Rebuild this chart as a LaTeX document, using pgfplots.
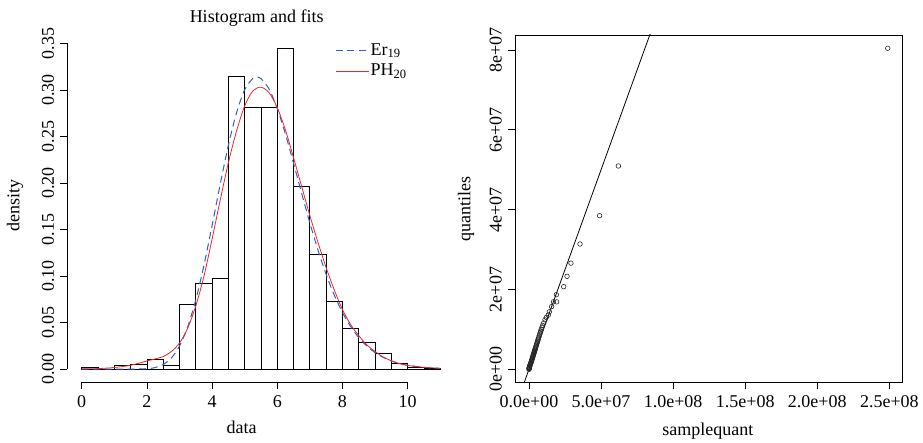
\documentclass[border=0pt]{standalone}
\usepackage{fontspec}
\setmainfont{Liberation Serif}
\usepackage{pgfplots}
\pgfplotsset{compat=1.18}
\definecolor{erblue}{RGB}{45,95,200}
\definecolor{phred}{RGB}{232,40,40}
\begin{document}
\fontsize{18}{21.6}\selectfont
\begin{tikzpicture}
\useasboundingbox (0,0) rectangle (923pt,442pt);
% ---------------- left: histogram and fits ----------------
\begin{axis}[
  at={(67.4pt,60pt)}, anchor=south west,
  scale only axis, width=387.2pt, height=346.7pt,
  xmin=-0.44, xmax=11.44, ymin=-0.0138, ymax=0.3588,
  axis x line*=bottom, axis y line*=left,
  axis line style={draw=none},
  clip=false,
  tick align=outside, major tick length=7pt,
  tick style={black, line width=0.8pt},
  xtick={0,2,4,6,8,10}, xticklabels={0,2,4,6,8,10},
  ytick={0,0.05,0.10,0.15,0.20,0.25,0.30,0.35},
  yticklabels={0.00,0.05,0.10,0.15,0.20,0.25,0.30,0.35},
  yticklabel style={rotate=90, anchor=south},
  xlabel={data}, ylabel={density},
  xlabel style={at={(axis description cs:0.45,-0.1298)}, anchor=center},
  ylabel style={at={(axis description cs:-0.1353,0.5105)}, anchor=center},
  title={Histogram and fits},
  title style={at={(axis description cs:0.489,1.031)}, anchor=center},
  legend style={at={(axis description cs:0.691,0.981)}, anchor=north west,
    draw=none, fill=none, inner sep=0pt, row sep=3pt,
    nodes={inner sep=1.5pt, anchor=west}},
  legend cell align=left,
  legend image code/.code={\draw[#1] (0pt,0pt) -- (33pt,0pt);},
]
\addplot[ybar interval, draw=black, fill=none, line width=0.8pt, forget plot] coordinates {
(0,0.002) (0.5,0) (1,0.004) (1.5,0.005) (2,0.011) (2.5,0.004) (3,0.070)
(3.5,0.092) (4,0.098) (4.5,0.315) (5,0.281) (5.5,0.281) (6,0.345)
(6.5,0.196) (7,0.123) (7.5,0.073) (8,0.044) (8.5,0.029) (9,0.017)
(9.5,0.006) (10,0.002) (10.5,0.001) (11,0.001)};
\addplot[erblue, line width=1pt, dash pattern=on 7pt off 4.5pt, smooth] coordinates {
(0,0) (0.5,0) (1,0) (1.5,0.00001) (2,0.0005) (2.25,0.0017) (2.5,0.005)
(2.75,0.012) (3,0.0249) (3.25,0.0455) (3.5,0.0746) (3.75,0.1118) (4,0.1545)
(4.25,0.1989) (4.5,0.2408) (4.75,0.2756) (5,0.3003) (5.25,0.3125) (5.375,0.3138)
(5.5,0.3122) (5.75,0.3009) (6,0.280) (6.25,0.2526) (6.5,0.2211) (6.75,0.1886)
(7,0.1571) (7.25,0.1278) (7.5,0.1018) (7.75,0.0795) (8,0.0609) (8.25,0.0458)
(8.5,0.0339) (8.75,0.0247) (9,0.0178) (9.25,0.0126) (9.5,0.0088) (9.75,0.0061)
(10,0.0042) (10.5,0.0019) (11,0.0008)};
\addlegendentry{Er\textsubscript{19}}
\addplot[phred, line width=0.8pt, smooth] coordinates {
(0,0.0003) (0.5,0.0006) (1,0.0018) (1.5,0.0042) (2,0.0088) (2.25,0.011)
(2.5,0.0135) (2.75,0.019) (3,0.028) (3.25,0.044) (3.5,0.068) (3.75,0.100)
(4,0.140) (4.25,0.182) (4.5,0.222) (4.75,0.256) (5,0.283) (5.25,0.299)
(5.5,0.303) (5.75,0.297) (6,0.281) (6.25,0.257) (6.5,0.227) (6.75,0.196)
(7,0.165) (7.25,0.136) (7.5,0.109) (7.75,0.085) (8,0.064) (8.25,0.048)
(8.5,0.036) (8.75,0.026) (9,0.019) (9.25,0.013) (9.5,0.009) (9.75,0.006)
(10,0.004) (10.5,0.002) (11,0.001)};
\addlegendentry{PH\textsubscript{20}}
\draw[black, line width=0.8pt] (axis cs:0,-0.0138) -- (axis cs:10,-0.0138);
\draw[black, line width=0.8pt] (axis cs:-0.44,0) -- (axis cs:-0.44,0.35);
\end{axis}
% ---------------- right: QQ plot ----------------
\begin{axis}[
  at={(515pt,59.7pt)}, anchor=south west,
  scale only axis, width=387.3pt, height=347.3pt,
  xmin=-9.7, xmax=259.0, ymin=-3.26, ymax=83.78,
  axis line style={black, line width=0.8pt},
  tick align=outside, major tick length=7pt,
  tick style={black, line width=0.8pt},
  xtick pos=bottom, ytick pos=left,
  xtick={0,50,100,150,200,250},
  xticklabels={0.0e+00,5.0e+07,1.0e+08,1.5e+08,2.0e+08,2.5e+08},
  ytick={0,20,40,60,80},
  yticklabels={0e+00,2e+07,4e+07,6e+07,8e+07},
  yticklabel style={rotate=90, anchor=south},
  xlabel={samplequant}, ylabel={quantiles},
  xlabel style={at={(axis description cs:0.498,-0.140)}, anchor=center},
  ylabel style={at={(axis description cs:-0.1265,0.5)}, anchor=center},
]
\addplot[black, line width=0.8pt] coordinates {(-10,-10) (100,100)};
\addplot[only marks, mark=o, mark size=2.3pt, mark options={black!85, line width=0.6pt}] coordinates {
(0,0) (0.05,0.1) (0.1,0.2) (0.15,0.3) (0.2,0.4) (0.3,0.5) (0.4,0.6) (0.5,0.8)
(0.7,1.0) (0.9,1.2) (1.1,1.4) (1.3,1.6) (1.5,1.8) (1.7,2.0) (1.8,2.2) (2.0,2.4)
(2.2,2.6) (2.4,2.8) (2.5,3.0) (2.7,3.2) (2.9,3.4) (3.0,3.6) (3.2,3.8) (3.4,4.0)
(3.6,4.2) (3.7,4.4) (3.9,4.6) (4.1,4.8) (4.2,5.0) (4.4,5.2) (4.7,5.5) (4.9,5.8)
(5.2,6.1) (5.4,6.4) (5.7,6.7) (5.9,7.0) (6.2,7.3) (6.4,7.6) (6.8,8.0) (7.1,8.4)
(7.5,8.8) (7.8,9.2) (8.2,9.6) (8.5,10.0) (9.0,10.5) (9.5,11.0) (10.2,11.6)
(11.1,12.4) (12.0,13.0) (13.4,13.6) (14.1,14.4) (15.7,15.7) (17.0,16.9)
(19.2,16.9) (19.0,18.7) (24.1,20.7) (26.4,23.3) (29.1,26.6) (35.4,31.4)
(49.0,38.5) (62.0,50.95) (248.9,80.45)};
\end{axis}
\end{tikzpicture}
\end{document}
